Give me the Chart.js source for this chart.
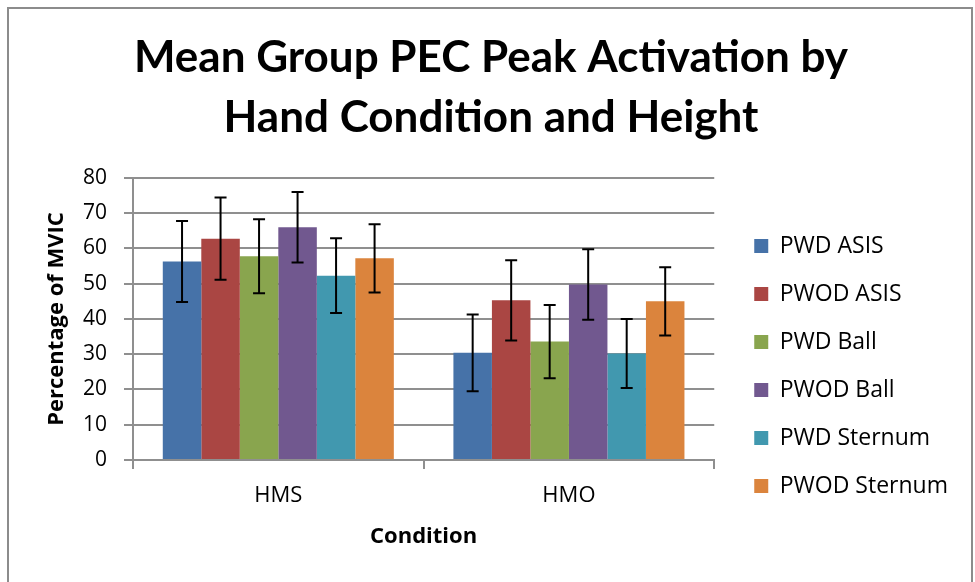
<!DOCTYPE html>
<html>
<head>
<meta charset="utf-8">
<script src="https://cdn.jsdelivr.net/npm/chart.js@4.4.1/dist/chart.umd.min.js"></script>
<style>
  html, body { margin: 0; padding: 0; background: #fff; overflow: hidden; }
  #frame { position: absolute; left: 7px; top: 7px; width: 966px; height: 620px;
           border: 2px solid #8c8c8c; box-sizing: border-box; }
  #wrap { position: absolute; left: 0; top: 0; width: 975px; height: 582px; }
</style>
</head>
<body>
<div id="frame"></div>
<div id="wrap"><canvas id="chart" width="975" height="582"></canvas></div>
<script>
// Chart data
const conditions = ['HMS', 'HMO'];
const seriesNames = ['PWD ASIS', 'PWOD ASIS', 'PWD Ball', 'PWOD Ball', 'PWD Sternum', 'PWOD Sternum'];
const seriesColors = ['#4672A8', '#AA4643', '#89A54E', '#71588F', '#4198AF', '#DB843D'];

const pwdAsis = [56.3, 30.4];
const pwodAsis = [62.8, 45.3];
const pwdBall = [57.8, 33.6];
const pwodBall = [66.0, 49.8];
const pwdSternum = [52.3, 30.2];
const pwodSternum = [57.2, 45.0];

// standard deviation (error bar half-length)
const pwdAsisErr = [11.5, 10.9];
const pwodAsisErr = [11.7, 11.4];
const pwdBallErr = [10.5, 10.4];
const pwodBallErr = [10.0, 10.0];
const pwdSternumErr = [10.6, 9.8];
const pwodSternumErr = [9.7, 9.7];

const yTicks = [0, 10, 20, 30, 40, 50, 60, 70, 80];

const seriesValues = [pwdAsis, pwodAsis, pwdBall, pwodBall, pwdSternum, pwodSternum];
const seriesErrors = [pwdAsisErr, pwodAsisErr, pwdBallErr, pwodBallErr, pwdSternumErr, pwodSternumErr];

const gridColor = '#8f8f8f';

// Error bars drawn through the chart's own scales
const errorBars = {
    id: 'errorBars',
    afterDatasetsDraw(chart) {
        const ctx = chart.ctx;
        const y = chart.scales.y;
        ctx.save();
        ctx.strokeStyle = '#000';
        ctx.lineWidth = 2;
        chart.data.datasets.forEach((ds, i) => {
            chart.getDatasetMeta(i).data.forEach((bar, j) => {
                const v = ds.data[j];
                const e = ds.errors[j];
                const top = y.getPixelForValue(v + e);
                const bot = y.getPixelForValue(v - e);
                const cap = 6;
                ctx.beginPath();
                ctx.moveTo(bar.x, top);
                ctx.lineTo(bar.x, bot);
                ctx.moveTo(bar.x - cap, top);
                ctx.lineTo(bar.x + cap, top);
                ctx.moveTo(bar.x - cap, bot);
                ctx.lineTo(bar.x + cap, bot);
                ctx.stroke();
            });
        });
        ctx.restore();
    }
};

// Excel-like layout: gap between plot and legend, title centred on the frame
const tweakLayout = {
    id: 'tweakLayout',
    afterLayout(chart) {
        const lg = chart.legend;
        lg.left += 15;
        lg.right += 15;
        chart.titleBlock.left = 7;
        chart.titleBlock.right = 975;
    }
};

new Chart(document.getElementById('chart'), {
    type: 'bar',
    data: {
        labels: conditions,
        datasets: seriesNames.map((name, i) => ({
            label: name,
            data: seriesValues[i],
            errors: seriesErrors[i],
            backgroundColor: seriesColors[i],
            borderWidth: 0,
            barPercentage: 1,
            categoryPercentage: 0.795
        }))
    },
    options: {
        responsive: false,
        animation: false,
        devicePixelRatio: 1,
        layout: { padding: { left: 0, right: 32, top: 0, bottom: 0 } },
        plugins: {
            tooltip: { enabled: false },
            title: {
                display: true,
                text: ['Mean Group PEC Peak Activation by', 'Hand Condition and Height'],
                color: '#000',
                font: { family: 'Lato', size: 44, weight: 'bold', lineHeight: 1.3636 },
                padding: { top: 28, bottom: 30 }
            },
            legend: {
                position: 'right',
                title: { display: true, text: '', font: { size: 10, lineHeight: 1 }, padding: { top: 140, bottom: 0 } },
                labels: {
                    boxWidth: 14,
                    boxHeight: 14,
                    padding: 25,
                    color: '#000',
                    font: { family: 'Open Sans', size: 23 }
                }
            }
        },
        scales: {
            x: {
                grid: { display: true, drawOnChartArea: false, drawTicks: true, tickLength: 9, color: gridColor, lineWidth: 2, offset: true },
                border: { color: gridColor, width: 2 },
                ticks: { color: '#000', font: { family: 'Open Sans', size: 22 }, padding: 14 },
                title: { display: true, text: 'Condition', color: '#000', font: { family: 'Open Sans', size: 22, weight: 'bold' }, padding: { top: 0, bottom: 32 } },
                afterFit(scale) { scale.height = 122; }
            },
            y: {
                min: 0,
                max: 80,
                afterBuildTicks(scale) { scale.ticks = yTicks.map(v => ({ value: v })); },
                grid: { color: gridColor, lineWidth: 2, tickLength: 9 },
                border: { color: gridColor, width: 2 },
                ticks: { color: '#000', font: { family: 'Open Sans', size: 21 }, padding: 17 },
                title: { display: true, text: 'Percentage of MVIC', color: '#000', font: { family: 'Open Sans', size: 22, weight: 'bold' }, padding: { top: 44, bottom: 0 } },
                afterFit(scale) { scale.width = 133; }
            }
        }
    },
    plugins: [errorBars, tweakLayout]
});
</script>
</body>
</html>
